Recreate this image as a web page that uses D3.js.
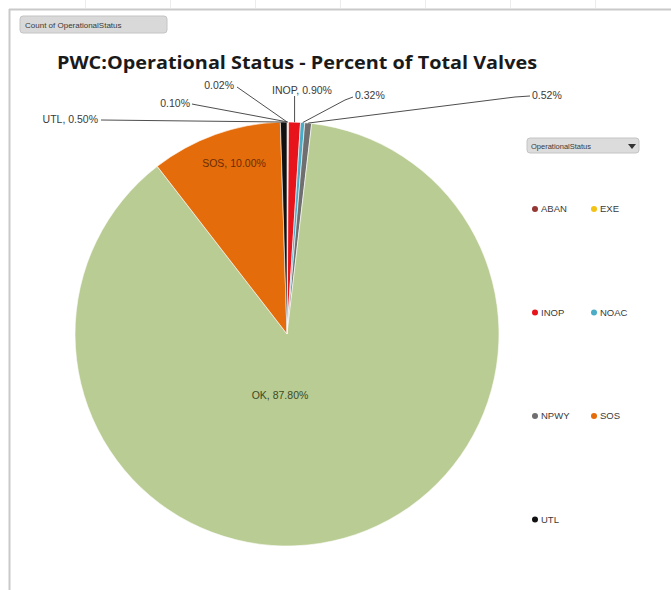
<!DOCTYPE html>
<html>
<head>
<meta charset="utf-8">
<script src="https://cdn.jsdelivr.net/npm/d3@7"></script>
<style>
  html, body { margin: 0; padding: 0; background: #ffffff; }
  svg { display: block; }
</style>
</head>
<body>
<svg id="chart" width="671" height="590"></svg>
<script>
// ---- data ----
const categories = ["ABAN", "EXE", "INOP", "NOAC", "NPWY", "OK", "SOS", "UTL"];
const percents   = [0.02, 0.10, 0.90, 0.32, 0.52, 87.80, 10.00, 0.50];
const showName   = [false, false, true, false, false, true, true, true];
const legendItems = ["ABAN", "EXE", "INOP", "NOAC", "NPWY", "SOS", "UTL"];
const titleText = "PWC:Operational Status - Percent of Total Valves";

// ---- styling / layout ----
const colors = {
  ABAN: "#953735", EXE: "#f2c314", INOP: "#e8141c", NOAC: "#4bacc6",
  NPWY: "#6f6f6f", OK: "#b9cc93", SOS: "#e46c0a", UTL: "#111111"
};
// label placement (layout only): text anchor point + optional elbow for the leader line
const labelLayout = {
  ABAN: { tx: 234, ty: 85,  anchor: "end",    elbow: null,        end: [237, 87] },
  EXE:  { tx: 190, ty: 103, anchor: "end",    elbow: [197, 105],  end: [192, 104] },
  INOP: { tx: 302, ty: 90,  anchor: "middle", elbow: null,        end: null },
  NOAC: { tx: 355, ty: 95,  anchor: "start",  elbow: [345, 100],  end: [353, 97] },
  NPWY: { tx: 532, ty: 95,  anchor: "start",  elbow: [515, 97],   end: [530, 96] },
  UTL:  { tx: 98,  ty: 119, anchor: "end",    elbow: null,        end: [101, 120] },
  OK:   { tx: 280, ty: 395, anchor: "middle", inside: true },
  SOS:  { tx: 234, ty: 163, anchor: "middle", inside: true }
};

const svg = d3.select("#chart");
const W = 671, H = 590;

// spreadsheet-like frame
svg.append("rect").attr("x", 0).attr("y", 0).attr("width", W).attr("height", H).attr("fill", "#ffffff");
svg.append("line").attr("x1", 9).attr("x2", W).attr("y1", 9.5).attr("y2", 9.5)
  .attr("stroke", "#c9c9c9").attr("stroke-width", 2);
svg.append("line").attr("x1", 9.5).attr("x2", 9.5).attr("y1", 9).attr("y2", H)
  .attr("stroke", "#c9c9c9").attr("stroke-width", 2);
[85, 170, 255, 340, 425, 510, 595].forEach(x => {
  svg.append("line").attr("x1", x + 0.5).attr("x2", x + 0.5).attr("y1", 0).attr("y2", 8)
    .attr("stroke", "#ececec");
});

// pivot field button
const btn = svg.append("g");
btn.append("rect").attr("x", 20).attr("y", 16).attr("width", 147).attr("height", 17).attr("rx", 3)
  .attr("fill", "#d9d9d9").attr("stroke", "#c4c4c4");
btn.append("text").attr("x", 25).attr("y", 28).attr("font-family", "Liberation Sans, Arial, sans-serif")
  .attr("font-size", 8).attr("fill", "#3a3a3a").text("Count of OperationalStatus");

// title
svg.append("text").attr("x", 57).attr("y", 69)
  .attr("font-family", "Open Sans, Liberation Sans, Arial, sans-serif")
  .attr("font-weight", "bold").attr("font-size", 17.5).attr("fill", "#1a1a1a")
  .attr("textLength", 480).attr("lengthAdjust", "spacingAndGlyphs")
  .text(titleText);

// pie
const cx = 287, cy = 334, R = 212;
const data = categories.map((c, i) => ({ cat: c, value: percents[i], showName: showName[i] }));
const pie = d3.pie().sort(null).value(d => d.value).startAngle(0).endAngle(2 * Math.PI);
const arcs = pie(data);
const arc = d3.arc().innerRadius(0).outerRadius(R);

const g = svg.append("g").attr("transform", `translate(${cx},${cy})`);
g.selectAll("path.slice").data(arcs).enter().append("path")
  .attr("class", "slice")
  .attr("d", arc)
  .attr("fill", d => colors[d.data.cat])
  .attr("stroke", "#ffffff").attr("stroke-width", 0.6);

// labels & leader lines
const fmt = d3.format(".2f");
const labelFont = "Liberation Sans, Arial, sans-serif";
arcs.forEach(d => {
  const L = labelLayout[d.data.cat];
  const txt = (d.data.showName ? d.data.cat + ", " : "") + fmt(d.data.value) + "%";
  if (!L.inside) {
    const mid = (d.startAngle + d.endAngle) / 2;
    const ex = cx + R * Math.sin(mid), ey = cy - R * Math.cos(mid);
    let pts = [[ex, ey]];
    if (L.elbow) pts.push(L.elbow);
    if (L.end) pts.push(L.end);
    else pts.push([ex, L.ty + 6]);
    svg.append("path").attr("d", d3.line()(pts)).attr("fill", "none")
      .attr("stroke", "#3a3a3a").attr("stroke-width", 0.9);
  }
  svg.append("text").attr("x", L.tx).attr("y", L.ty).attr("dy", "0.35em")
    .attr("text-anchor", L.anchor)
    .attr("font-family", labelFont).attr("font-size", 10.5)
    .attr("fill", L.inside ? (d.data.cat === "SOS" ? "#6a2c05" : "#3d4a26") : "#3a3a3a")
    .text(txt);
});

// legend field dropdown
const dd = svg.append("g");
dd.append("rect").attr("x", 527).attr("y", 138).attr("width", 112).attr("height", 15).attr("rx", 3)
  .attr("fill", "#dcdcdc").attr("stroke", "#c4c4c4");
dd.append("text").attr("x", 531).attr("y", 148.5).attr("font-family", labelFont)
  .attr("font-size", 7.5).attr("fill", "#3a3a3a").text("OperationalStatus");
dd.append("path").attr("d", "M628,144 L636,144 L632,149 Z").attr("fill", "#333");

// legend
const legendCols = [535, 594];
const legendRow0 = 209, legendRowStep = 103.5;
legendItems.forEach((c, i) => {
  const x = legendCols[i % 2], y = legendRow0 + Math.floor(i / 2) * legendRowStep;
  svg.append("circle").attr("cx", x).attr("cy", y).attr("r", 3)
    .attr("fill", colors[c]);
  svg.append("text").attr("x", x + 6).attr("y", y).attr("dy", "0.35em")
    .attr("font-family", labelFont).attr("font-size", 9.5).attr("fill", "#3a3a3a").text(c);
});
</script>
</body>
</html>
